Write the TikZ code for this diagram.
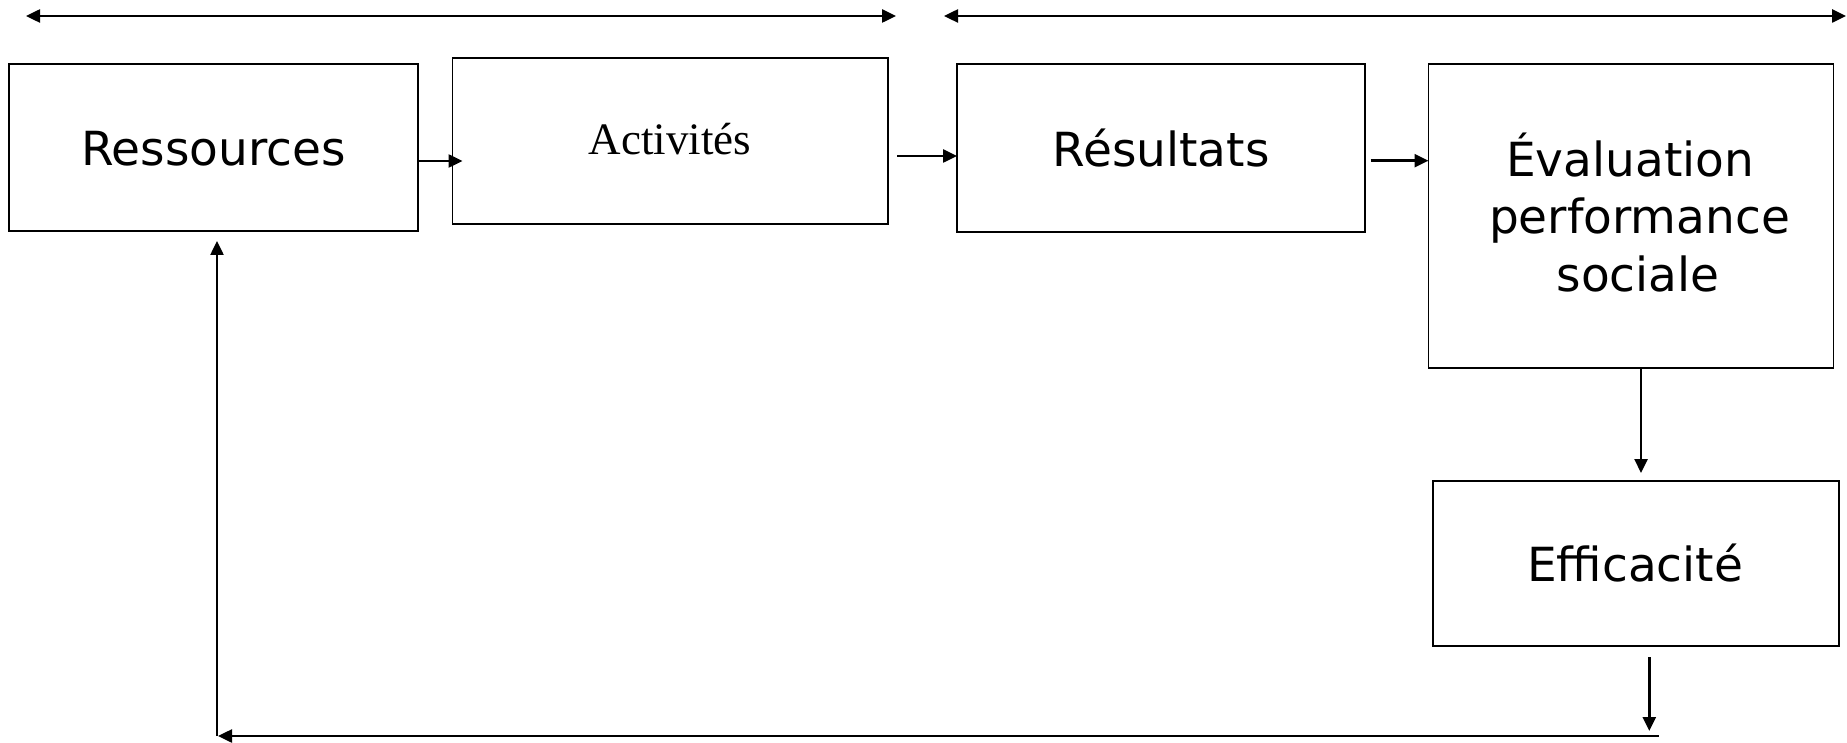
\documentclass[tikz,border=0pt]{standalone}
\usepackage{fontspec}
\newfontfamily\vsans{DejaVu Sans}
\newfontfamily\vserif{Liberation Serif}
\usetikzlibrary{arrows.meta}
\begin{document}
\begin{tikzpicture}[x=1pt,y=-1pt,
  box/.style={draw=black,line width=1.6pt,rectangle,inner sep=0pt,outer sep=0pt},
  arr/.style={line width=2.5pt,-{Triangle[length=14pt,width=13pt]}},
  darr/.style={line width=2.5pt,{Triangle[length=14pt,width=13pt]}-{Triangle[length=14pt,width=13pt]}},
  lbl/.style={anchor=base,inner sep=0pt,font=\vsans\fontsize{47}{56}\selectfont},
  slbl/.style={anchor=base,inner sep=0pt,font=\vserif\fontsize{45}{54}\selectfont}]
\useasboundingbox[fill=white] (0,0) rectangle (1847,743);

% boxes
\node[box,minimum width=409pt,minimum height=167pt] (res) at (213.5,147.5) {};
\node[box,minimum width=435.5pt,minimum height=166pt] (act) at (670.25,141) {};
\node[box,minimum width=408pt,minimum height=168pt] (resu) at (1161,148) {};
\node[box,minimum width=405pt,minimum height=304pt] (eval) at (1631,216) {};
\node[box,minimum width=406pt,minimum height=165pt] (eff) at (1635.7,563.5) {};

% texts
\node[lbl] (tres) at (213.5,165.7) {Ressources};
\node[slbl] (tact) at (670,155) {Activités};
\node[lbl] (tresu) at (1161,166.7) {Résultats};
\node[lbl] (tev1) at (1630,176.7) {Évaluation};
\node[lbl] (tev2) at (1639.5,233.3) {performance};
\node[lbl] (tev3) at (1638,291.7) {sociale};
\node[lbl] (teff) at (1635,581.7) {Efficacité};

% helper coordinates
\coordinate (ta1) at (26,16);
\coordinate (tb1) at (896,16);
\coordinate (ta2) at (944,16);
\coordinate (tb2) at (1846,16);
\coordinate (y1) at (0,161);
\coordinate (y2) at (0,156);
\coordinate (y3) at (0,160.7);
\coordinate (x4) at (1641,0);
\coordinate (e4) at (1641,473);
\coordinate (s5) at (1649.3,657);
\coordinate (e5) at (1649.3,731);
\coordinate (b6) at (1658.7,736);
\coordinate (c6) at (218,736);
\coordinate (v7) at (217,736);
\coordinate (w7) at (217,241);

% top double arrows
\draw[darr] (ta1) -- (tb1);
\draw[darr] (ta2) -- (tb2);

% flow arrows
\draw[arr] (res.east |- y1) -- ([xshift=10pt]act.west |- y1);
\draw[arr] ([xshift=9pt]act.east |- y2) -- (resu.west |- y2);
\draw[arr] ([xshift=5.6pt]resu.east |- y3) -- (eval.west |- y3);
\draw[arr] (eval.south -| x4) -- (e4);
\draw[arr] (s5) -- (e5);
\draw[arr] (b6) -- (c6);
\draw[arr] (v7) -- (w7);
\end{tikzpicture}
\end{document}
